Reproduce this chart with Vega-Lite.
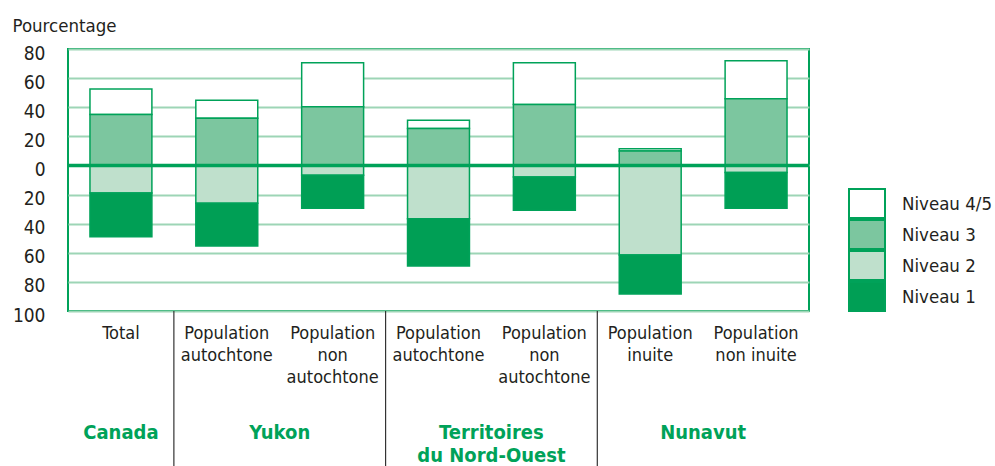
{
  "$schema": "https://vega.github.io/schema/vega-lite/v6.json",
  "width": 741,
  "height": 262,
  "autosize": {"type": "none"},
  "padding": {"left": 68, "top": 49, "right": 186, "bottom": 155},
  "background": "white",
  "config": {
    "font": "DejaVu Sans Condensed, Liberation Sans, sans-serif",
    "view": {"stroke": "#00a259", "strokeWidth": 2}
  },
  "datasets": {
    "niveaux": [
      {"groupe": "1|Total", "region": "Canada", "niveau": "Niveau 4/5", "pourcentage": 17.5},
      {"groupe": "1|Total", "region": "Canada", "niveau": "Niveau 3", "pourcentage": 35},
      {"groupe": "1|Total", "region": "Canada", "niveau": "Niveau 2", "pourcentage": -19},
      {"groupe": "1|Total", "region": "Canada", "niveau": "Niveau 1", "pourcentage": -30},
      {"groupe": "2|Population|autochtone", "region": "Yukon", "niveau": "Niveau 4/5", "pourcentage": 12.4},
      {"groupe": "2|Population|autochtone", "region": "Yukon", "niveau": "Niveau 3", "pourcentage": 32.4},
      {"groupe": "2|Population|autochtone", "region": "Yukon", "niveau": "Niveau 2", "pourcentage": -26},
      {"groupe": "2|Population|autochtone", "region": "Yukon", "niveau": "Niveau 1", "pourcentage": -29.3},
      {"groupe": "3|Population|non|autochtone", "region": "Yukon", "niveau": "Niveau 4/5", "pourcentage": 30.2},
      {"groupe": "3|Population|non|autochtone", "region": "Yukon", "niveau": "Niveau 3", "pourcentage": 40.4},
      {"groupe": "3|Population|non|autochtone", "region": "Yukon", "niveau": "Niveau 2", "pourcentage": -6.7},
      {"groupe": "3|Population|non|autochtone", "region": "Yukon", "niveau": "Niveau 1", "pourcentage": -22.7},
      {"groupe": "4|Population|autochtone", "region": "Territoires du Nord-Ouest", "niveau": "Niveau 4/5", "pourcentage": 5.7},
      {"groupe": "4|Population|autochtone", "region": "Territoires du Nord-Ouest", "niveau": "Niveau 3", "pourcentage": 25.3},
      {"groupe": "4|Population|autochtone", "region": "Territoires du Nord-Ouest", "niveau": "Niveau 2", "pourcentage": -36.7},
      {"groupe": "4|Population|autochtone", "region": "Territoires du Nord-Ouest", "niveau": "Niveau 1", "pourcentage": -32.3},
      {"groupe": "5|Population|non|autochtone", "region": "Territoires du Nord-Ouest", "niveau": "Niveau 4/5", "pourcentage": 28.8},
      {"groupe": "5|Population|non|autochtone", "region": "Territoires du Nord-Ouest", "niveau": "Niveau 3", "pourcentage": 41.8},
      {"groupe": "5|Population|non|autochtone", "region": "Territoires du Nord-Ouest", "niveau": "Niveau 2", "pourcentage": -7.9},
      {"groupe": "5|Population|non|autochtone", "region": "Territoires du Nord-Ouest", "niveau": "Niveau 1", "pourcentage": -22.9},
      {"groupe": "6|Population|inuite", "region": "Nunavut", "niveau": "Niveau 4/5", "pourcentage": 1.5},
      {"groupe": "6|Population|inuite", "region": "Nunavut", "niveau": "Niveau 3", "pourcentage": 10},
      {"groupe": "6|Population|inuite", "region": "Nunavut", "niveau": "Niveau 2", "pourcentage": -61.5},
      {"groupe": "6|Population|inuite", "region": "Nunavut", "niveau": "Niveau 1", "pourcentage": -26.8},
      {"groupe": "7|Population|non inuite", "region": "Nunavut", "niveau": "Niveau 4/5", "pourcentage": 26.1},
      {"groupe": "7|Population|non inuite", "region": "Nunavut", "niveau": "Niveau 3", "pourcentage": 45.9},
      {"groupe": "7|Population|non inuite", "region": "Nunavut", "niveau": "Niveau 2", "pourcentage": -4.9},
      {"groupe": "7|Population|non inuite", "region": "Nunavut", "niveau": "Niveau 1", "pourcentage": -24.5}
    ]
  },
  "layer": [
    {
      "data": {"name": "niveaux"},
      "transform": [
        {"calculate": "datum.niveau == 'Niveau 3' || datum.niveau == 'Niveau 2' ? 1 : 2", "as": "rang"}
      ],
      "mark": {"type": "bar", "stroke": "#00a259", "strokeWidth": 1.5},
      "encoding": {
        "x": {
          "field": "groupe",
          "type": "nominal",
          "sort": null,
          "scale": {"paddingInner": 0.415, "paddingOuter": 0.2075},
          "axis": {
            "title": null,
            "labelExpr": "slice(split(datum.label, '|'), 1)",
            "labelAngle": 0,
            "labelFontSize": 18,
            "labelLineHeight": 22,
            "labelBaseline": "top",
            "labelPadding": 13,
            "labelColor": "#231f20",
            "ticks": false,
            "domain": false,
            "grid": false
          }
        },
        "y": {
          "field": "pourcentage",
          "type": "quantitative",
          "stack": "zero",
          "scale": {"domain": [-100, 80], "nice": false},
          "axis": {
            "title": "Pourcentage",
            "titleAngle": 0,
            "titleAlign": "left",
            "titleBaseline": "alphabetic",
            "titleX": -56,
            "titleY": -18,
            "titleFontSize": 18.5,
            "titleFontWeight": "normal",
            "titleColor": "#231f20",
            "values": [-100, -80, -60, -40, -20, 0, 20, 40, 60, 80],
            "tickCount": 12,
            "labelExpr": "abs(datum.value)",
            "labelFontSize": 19,
            "labelPadding": 23,
            "labelOffset": 4,
            "labelOverlap": false,
            "labelFlush": false,
            "labelBound": false,
            "labelColor": "#231f20",
            "ticks": false,
            "domain": false,
            "grid": true,
            "gridColor": "#9dd5b6",
            "gridWidth": 2
          }
        },
        "fill": {
          "field": "niveau",
          "type": "nominal",
          "scale": {
            "domain": ["Niveau 4/5", "Niveau 3", "Niveau 2", "Niveau 1"],
            "range": ["#ffffff", "#7cc69f", "#bfe0cc", "#009f55"]
          },
          "legend": {
            "title": null,
            "orient": "none",
            "legendX": 780,
            "legendY": 139,
            "padding": 0,
            "clipHeight": 31,
            "symbolType": "M-1,-0.806H1V0.806H-1Z",
            "symbolSize": 1296,
            "symbolStrokeColor": "#00a259",
            "symbolStrokeWidth": 2,
            "rowPadding": 0,
            "labelFontSize": 18.5,
            "labelOffset": 16,
            "labelColor": "#231f20"
          }
        },
        "order": {"field": "rang", "type": "quantitative"}
      }
    },
    {
      "data": {"values": [{"zero": 0}]},
      "mark": {"type": "rule", "color": "#00a259", "strokeWidth": 3.5},
      "encoding": {"y": {"field": "zero", "type": "quantitative"}}
    },
    {
      "data": {"values": [
        {"apres": "1|Total"},
        {"apres": "3|Population|non|autochtone"},
        {"apres": "5|Population|non|autochtone"}
      ]},
      "mark": {"type": "rule", "color": "#333333", "strokeWidth": 1.2},
      "encoding": {
        "x": {"field": "apres", "type": "nominal", "bandPosition": 1.355},
        "y": {"datum": -100},
        "y2": {"datum": -207}
      }
    },
    {
      "data": {"values": [
        {"premier": "2|Population|autochtone", "region": "Yukon"},
        {"premier": "4|Population|autochtone", "region": "Territoires|du Nord-Ouest"},
        {"premier": "6|Population|inuite", "region": "Nunavut"}
      ]},
      "mark": {"type": "text", "lineBreak": "|", "fontWeight": "bold", "fontSize": 20, "color": "#00a259", "baseline": "top", "lineHeight": 23},
      "encoding": {
        "x": {"field": "premier", "type": "nominal", "bandPosition": 1.355},
        "y": {"datum": -177},
        "text": {"field": "region", "type": "nominal"}
      }
    },
    {
      "data": {"values": [{"premier": "1|Total", "region": "Canada"}]},
      "mark": {"type": "text", "fontWeight": "bold", "fontSize": 20, "color": "#00a259", "baseline": "top"},
      "encoding": {
        "x": {"field": "premier", "type": "nominal", "bandPosition": 0.5},
        "y": {"datum": -177},
        "text": {"field": "region", "type": "nominal"}
      }
    }
  ]
}
